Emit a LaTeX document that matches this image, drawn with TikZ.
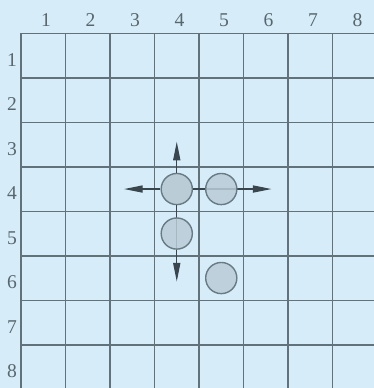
\documentclass[tikz,border=0pt]{standalone}
\usepackage{fontspec}
\setmainfont{Liberation Serif}
\usetikzlibrary{arrows.meta}
\definecolor{bagg}{RGB}{214,237,249}
\definecolor{gitter}{RGB}{98,114,122}
\definecolor{brik}{RGB}{186,204,214}
\definecolor{kant}{RGB}{104,122,132}
\definecolor{pil}{RGB}{58,70,78}
\tikzset{
  linje/.style={gitter,line width=1pt},
  tal/.style={text=gitter!90!black,font=\fontsize{12.5}{14}\selectfont,inner sep=0pt},
  brikke/.style={circle,draw=kant,fill=brik,line width=0.9pt,minimum size=0.7cm,inner sep=0pt},
  pilen/.style={pil,line width=0.8pt,-{Triangle[length=4.2mm,width=1.6mm]}}
}
\begin{document}
\begin{tikzpicture}
%baggrund
\fill[bagg] (-0.472,-7.971) rectangle (7.932,0.748);
\clip (-0.472,-7.971) rectangle (7.932,0.748);
%gitter
\foreach \i in {0,...,8} \draw[linje] (\i,0)--(\i,-8.2);
\foreach \j in {0,...,7} \draw[linje] (0,-\j)--(8.2,-\j);
%tal
\foreach \i in {1,...,8} {
  \node[tal] (top\i) at (\i-0.44,0.3) {\i};
  \node[tal] (side\i) at (-0.2,-\i+0.4) {\i};
}
%brikker og pile
\node[brikke] (b44) at (3.5,-3.5) {};
\coordinate (op) at (3.5,-2.436);
\coordinate (ned) at (3.5,-5.58);
\coordinate (venstre) at (2.315,-3.5);
\coordinate (hoejre) at (5.63,-3.5);
\draw[pilen] (b44.north)--(op);
\draw[pilen] (b44.south)--(ned);
\draw[pilen] (b44.west)--(venstre);
\draw[pilen] (b44.east)--(hoejre);
\node[brikke,fill opacity=0.85] (b54) at (4.5,-3.5) {};
\node[brikke,fill opacity=0.85] (b45) at (3.5,-4.5) {};
\node[brikke,fill opacity=0.85] (b56) at (4.5,-5.5) {};
\end{tikzpicture}
\end{document}
